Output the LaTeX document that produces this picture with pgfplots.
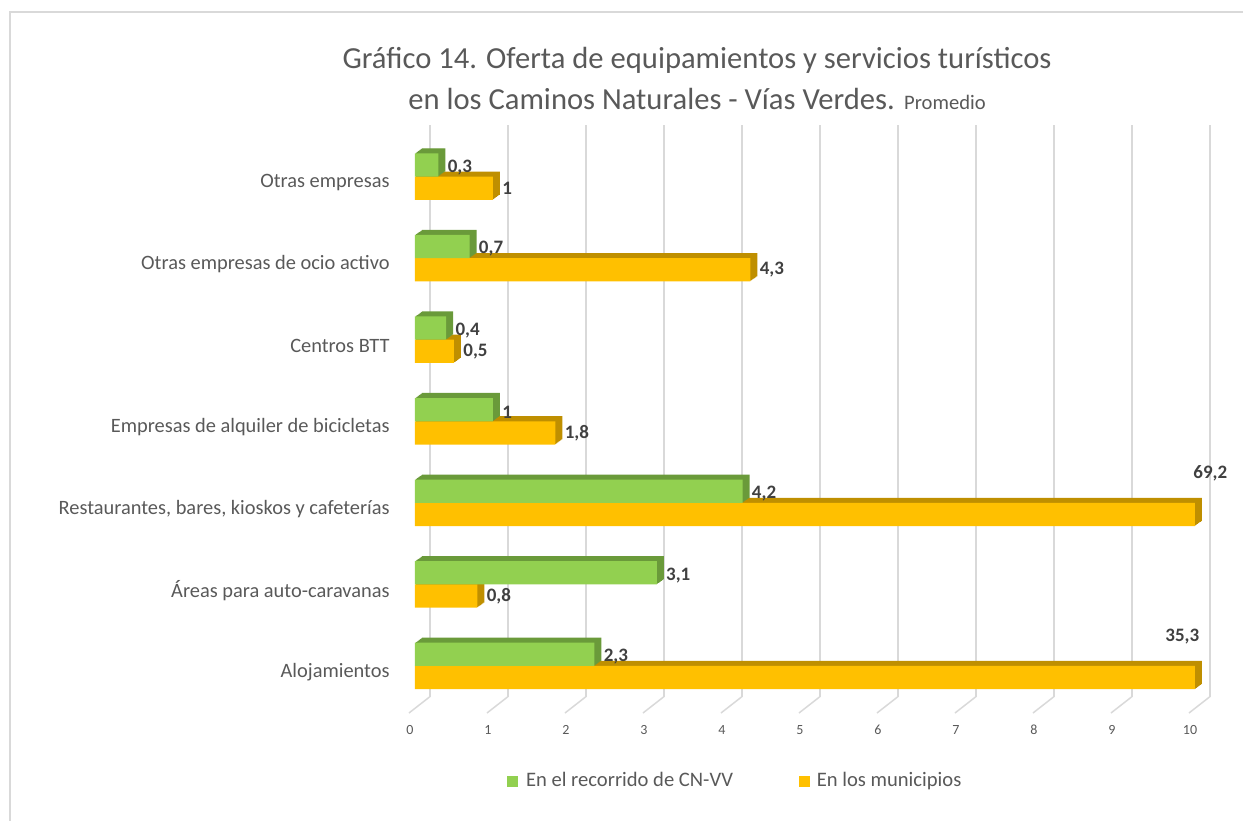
\documentclass[border=0pt]{standalone}
\usepackage{pgfplots}
\pgfplotsset{compat=1.18}
\usepackage{pgfplotstable}
\usepackage{fontspec}
\setmainfont{Carlito}

\definecolor{cgreen}{HTML}{92D050}
\definecolor{cgreendk}{HTML}{6A9A3A}
\definecolor{corange}{HTML}{FFC000}
\definecolor{corangedk}{HTML}{BF8F00}
\definecolor{txt}{HTML}{595959}
\definecolor{lbl}{HTML}{404040}
\definecolor{gridc}{HTML}{D9D9D9}

\pgfplotstableread{
pos green orange glab olab ox oy
0 2.3 35.3 2,3 35,3 -19.5 20.5
1 3.1 0.8 3,1 0,8 0 0
2 4.2 69.2 4,2 69,2 -5.5 20.5
3 1 1.8 1 1,8 0 0
4 0.4 0.5 0,4 0,5 0 0
5 0.7 4.3 0,7 4,3 0 0
6 0.3 1 0,3 1 0 0
}\data

\begin{document}
\begin{tikzpicture}
\useasboundingbox (-207.5pt,-56pt) rectangle (414pt,354pt);
\draw[gridc, line width=0.8pt] (-202.5pt,-60pt) -- (-202.5pt,348pt) -- (420pt,348pt);
\begin{axis}[
  at={(0,0)}, anchor=south west,
  scale only axis, width=390pt, height=285.7pt,
  xmin=0, xmax=10, ymin=-0.515, ymax=6.49,
  clip=false,
  axis line style={draw=none},
  major tick length=0pt,
  xtick={0,...,10},
  ytick={0,...,6},
  yticklabels={Alojamientos, Áreas para auto-caravanas, {Restaurantes, bares, kioskos y cafeterías}, Empresas de alquiler de bicicletas, Centros BTT, Otras empresas de ocio activo, Otras empresas},
  xticklabel style={font=\fontsize{7}{8}\selectfont, text=txt, anchor=center, yshift=-11pt, xshift=-2.5pt},
  /pgf/number format/assume math mode=true,
  yticklabel style={font=\fontsize{10.2}{12}\selectfont, text=txt, anchor=east, inner sep=0pt, xshift=-12.5pt, yshift=-3pt},
  xmajorgrids,
  major grid style={gridc, line width=0.75pt, xshift=7.5pt, yshift=5.7pt},
  legend style={draw=none, fill=none, font=\fontsize{10.3}{12}\selectfont, text=txt,
    at={(0.412,-0.128)}, anchor=center, legend columns=2,
    /tikz/every even column/.append style={column sep=31pt}},
  legend cell align=left,
  nodes near coords style={font=\fontsize{9.5}{11}\selectfont\bfseries, text=lbl, inner sep=0pt, anchor=west},
]
\addlegendimage{legend image code/.code={\fill[cgreen] (0pt,-2.5pt) rectangle (5pt,2.5pt); \path (7pt,0pt);}}
\addlegendentry{En el recorrido de CN-VV}
\addlegendimage{legend image code/.code={\fill[corange] (0pt,-2.5pt) rectangle (5pt,2.5pt); \path (6.5pt,0pt);}}
\addlegendentry{En los municipios}

\pgfplotsinvokeforeach{1,...,7}{
  \addplot[xbar, bar width=0.285, bar shift=-0.1425, fill=corangedk, draw=none, forget plot,
    xshift=#1*0.5pt, yshift=#1*0.36pt]
    table[x expr={min(\thisrow{orange},10)}, y=pos]{\data};
}
\addplot[xbar, bar width=0.285, bar shift=-0.1425, fill=corange, draw=none, forget plot,
  point meta=explicit symbolic, nodes near coords,
  visualization depends on={\thisrow{ox} \as \ox},
  visualization depends on={\thisrow{oy} \as \oy},
  every node near coord/.append style={xshift=4.5pt+\ox pt, yshift=-5.8pt+\oy pt}]
  table[x expr={min(\thisrow{orange},10)}, y=pos, meta=olab]{\data};

\pgfplotsinvokeforeach{1,...,7}{
  \addplot[xbar, bar width=0.285, bar shift=0.1425, fill=cgreendk, draw=none, forget plot,
    xshift=#1*0.5pt, yshift=#1*0.36pt]
    table[x=green, y=pos]{\data};
}
\addplot[xbar, bar width=0.285, bar shift=0.1425, fill=cgreen, draw=none, forget plot,
  point meta=explicit symbolic, nodes near coords,
  every node near coord/.append style={xshift=4.5pt, yshift=4.6pt}]
  table[x=green, y=pos, meta=glab]{\data};

\pgfplotsinvokeforeach{0,...,10}{
  \draw[gridc, line width=0.75pt] (axis cs:#1,-0.515) ++(-3pt,-2.5pt) -- ++(10.5pt,8.2pt);
}
\end{axis}
\node[text=txt, font=\fontsize{15.3}{18}\selectfont] at (141pt,324pt) {Gráfico 14. Oferta de equipamientos y servicios turísticos};
\node[text=txt, font=\fontsize{15.3}{18}\selectfont] at (141pt,304.5pt) {en los Caminos Naturales - Vías Verdes. {\fontsize{10.3}{12}\selectfont Promedio}};
\end{tikzpicture}
\end{document}
